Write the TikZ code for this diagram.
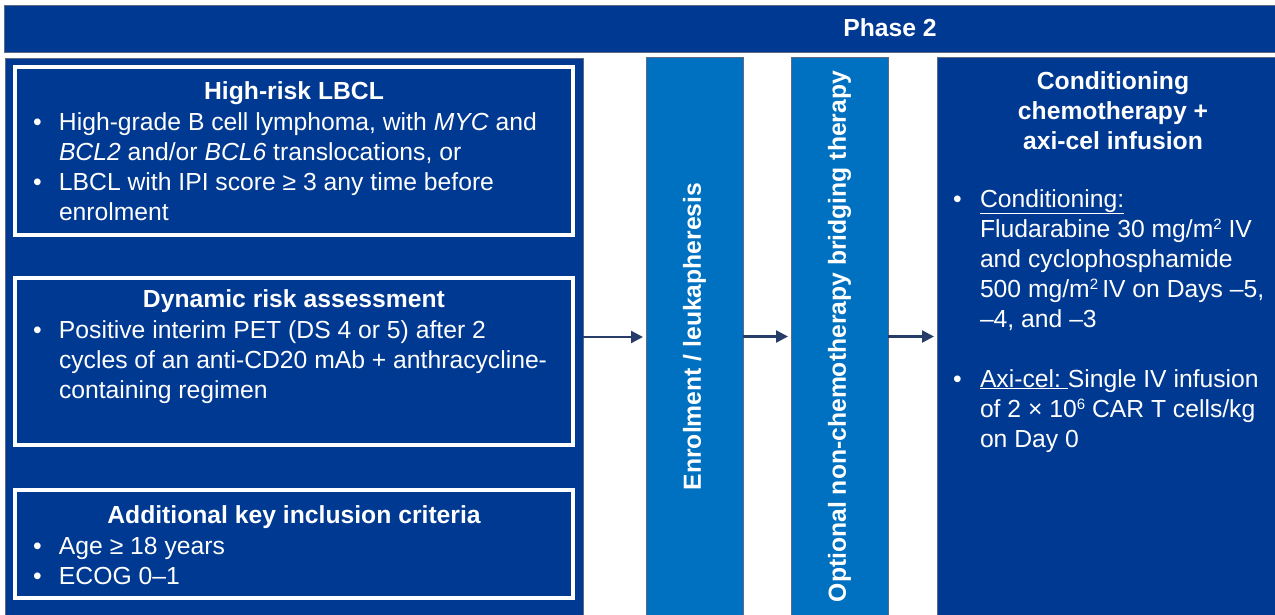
\documentclass[tikz,border=0pt]{standalone}
\usepackage{fontspec}
\setmainfont{Liberation Sans}
\usetikzlibrary{arrows.meta}
\definecolor{navy}{RGB}{0,57,145}
\definecolor{midblue}{RGB}{0,112,192}
\definecolor{edgegray}{RGB}{95,105,130}
\definecolor{arrowblue}{RGB}{40,60,105}
\newcommand{\bul}{\textbullet}
% small raised figure used for units and powers
\newcommand{\supfig}[1]{\raisebox{7.5pt}{\fontsize{15}{15}\selectfont #1}}
\begin{document}
\begin{tikzpicture}[x=1pt,y=-1pt,
  every node/.style={inner sep=0pt, outer sep=0pt},
  panel/.style={draw=edgegray, line width=0.8pt, fill=navy, anchor=north west},
  stage/.style={draw=edgegray, line width=0.8pt, fill=midblue, anchor=north west},
  inner/.style={draw=white, line width=3.5pt, anchor=north west},
  txt/.style={text=white, font=\fontsize{24.7}{30}\selectfont},
  head/.style={txt, font=\fontsize{24.7}{30}\selectfont\bfseries},
  arr/.style={draw=arrowblue, line width=2.3pt, shorten >=3pt,
    -{Triangle[length=12pt,width=12pt]}}]
\useasboundingbox (0,0) rectangle (1275,614);
\fill[white] (0,0) rectangle (1275,614);

% Phase banner
\node[panel, minimum width=1290pt, minimum height=47pt] (banner) at (4,5) {};
\node[head] (phase) at (890,28) {Phase 2};

% Eligibility panel with its three criteria boxes
\node[panel, minimum width=578pt, minimum height=558pt] (crit) at (5,58) {};
\node[inner, minimum width=558pt, minimum height=168pt] (hr) at (15,67) {};
\node[inner, minimum width=558pt, minimum height=167pt] (dra) at (15,278) {};
\node[inner, minimum width=558pt, minimum height=108pt] (aki) at (15,490) {};

\node[head, anchor=base] (hrhead) at (294,99) {High-risk LBCL};
\node[txt, anchor=north west] (hrtext) at (33,109) {%
\begin{tabular}{@{}p{26pt}@{}l@{}}
\bul & High-grade B cell lymphoma, with \textit{MYC} and\\
 & \textit{BCL2} and/or \textit{BCL6} translocations, or\\
\bul & LBCL with IPI score ≥ 3 any time before\\
 & enrolment
\end{tabular}};

\node[head, anchor=base] (drahead) at (294,307) {Dynamic risk assessment};
\node[txt, anchor=north west] (dratext) at (33,317) {%
\begin{tabular}{@{}p{26pt}@{}l@{}}
\bul & Positive interim PET (DS 4 or 5) after 2\\
 & cycles of an anti-CD20 mAb + anthracycline-\\
 & containing regimen
\end{tabular}};

\node[head, anchor=base] (akihead) at (294,523) {Additional key inclusion criteria};
\node[txt, anchor=north west] (akitext) at (33,533) {%
\begin{tabular}{@{}p{26pt}@{}l@{}}
\bul & Age ≥ 18 years\\
\bul & ECOG 0–1
\end{tabular}};

% Process stages
\node[stage, minimum width=97pt, minimum height=559pt] (enrol) at (646,57) {};
\node[head, rotate=90] (enroltext) at (enrol.center) {Enrolment / leukapheresis};

\node[stage, minimum width=97pt, minimum height=559pt] (bridge) at (791,57) {};
\node[head, rotate=90] (bridgetext) at (bridge.center) {Optional non-chemotherapy bridging therapy};

\node[panel, minimum width=350pt, minimum height=559pt] (cond) at (937,57) {};
\node[head, anchor=north] (condhead) at (1113,68) {%
\begin{tabular}{@{}c@{}}
Conditioning\\
chemotherapy +\\
axi-cel infusion
\end{tabular}};
\node[txt, anchor=north west] (condtext) at (953,186) {%
\begin{tabular}{@{}p{27pt}@{}l@{}}
\bul & \underline{Conditioning:}\\
 & Fludarabine 30 mg/m\supfig{2} IV\\
 & and cyclophosphamide\\
 & 500 mg/m\supfig{2}\,IV on Days –5,\\
 & –4, and –3\\
 & \\
\bul & \underline{Axi-cel:\ }Single IV infusion\\
 & of 2 × 10\supfig{6} CAR T cells/kg\\
 & on Day 0
\end{tabular}};

% Flow arrows
\draw[arr] (crit.east) -- (crit.east -| enrol.west);
\draw[arr] (enrol.east) -- (enrol.east -| bridge.west);
\draw[arr] (bridge.east) -- (bridge.east -| cond.west);
\end{tikzpicture}
\end{document}
